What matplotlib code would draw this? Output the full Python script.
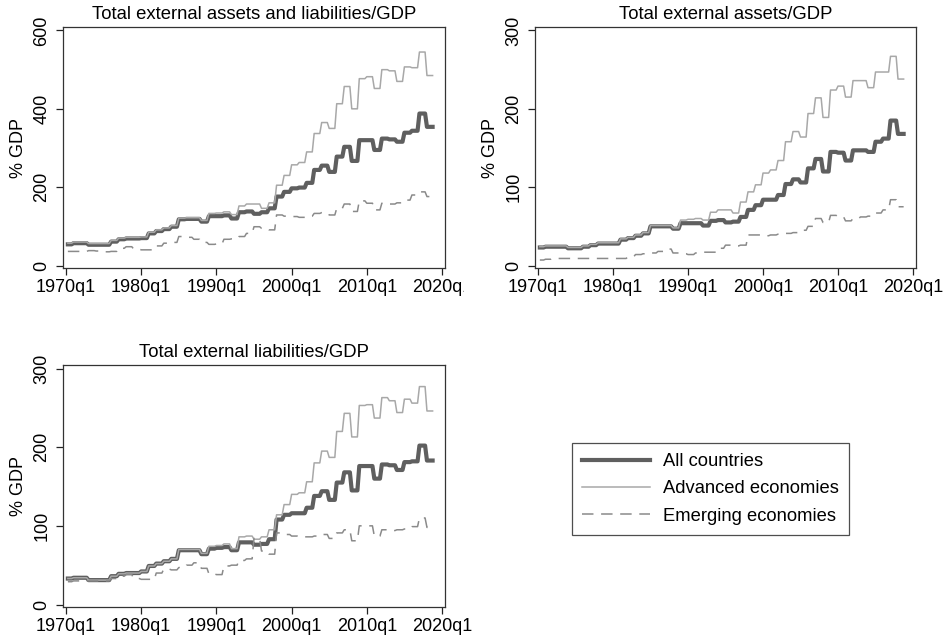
import numpy as np
import matplotlib.pyplot as plt
from matplotlib.transforms import Bbox, TransformedBbox

plt.rcParams['font.family'] = ['Liberation Sans', 'DejaVu Sans']

# annual readings 1970..2018, shown at quarterly frequency
YEARS = np.arange(1970, 2019)

TOTAL_ALL = [54, 57, 57, 53, 53, 53, 61, 67, 69, 69, 70, 82, 88, 93, 99, 118, 119, 119, 112, 126,
             126, 128, 120, 136, 138, 132, 136, 146, 176, 188, 197, 199, 211, 244, 255, 239, 278, 303, 267, 320,
             320, 295, 324, 322, 316, 339, 344, 388, 354]
TOTAL_ADV = [57, 60, 60, 56, 56, 56, 64, 70, 72, 72, 73, 85, 91, 96, 102, 121, 122, 122, 115, 133,
             134, 137, 130, 152, 157, 157, 146, 160, 205, 230, 257, 263, 290, 337, 365, 350, 413, 457, 400, 477,
             482, 452, 500, 497, 470, 507, 505, 545, 485]
TOTAL_EME = [36, 36, 36, 38, 37, 35, 36, 44, 48, 42, 40, 40, 50, 57, 59, 74, 72, 67, 59, 54,
             55, 67, 68, 74, 82, 99, 95, 91, 129, 126, 125, 123, 126, 133, 135, 129, 146, 157, 138, 165,
             159, 142, 159, 157, 160, 167, 180, 188, 176]

ASSETS_ALL = [23, 24, 24, 24, 22, 22, 24, 26, 28, 28, 28, 33, 35, 38, 41, 50, 50, 50, 47, 54,
              54, 54, 51, 57, 58, 55, 56, 62, 71, 77, 84, 84, 90, 104, 110, 106, 124, 136, 120, 145,
              144, 134, 147, 147, 145, 158, 162, 185, 168]
ASSETS_ADV = [24, 25, 25, 25, 23, 23, 25, 27, 29, 29, 29, 34, 36, 39, 42, 51, 51, 51, 48, 58,
              59, 60, 58, 68, 71, 71, 67, 81, 94, 103, 118, 122, 134, 158, 171, 164, 194, 214, 189, 224,
              229, 215, 236, 236, 227, 247, 247, 267, 238]
ASSETS_EME = [7, 8, 9, 9, 9, 9, 9, 9, 9, 9, 9, 9, 11, 14, 15, 16, 18, 21, 16, 15,
              14, 16, 17, 17, 22, 26, 25, 26, 39, 39, 38, 39, 40, 41, 42, 45, 50, 60, 55, 64,
              62, 57, 60, 62, 63, 67, 71, 84, 75]

LIAB_ALL = [33, 34, 34, 31, 31, 31, 36, 39, 40, 40, 42, 49, 52, 55, 58, 69, 69, 69, 64, 71,
            72, 73, 69, 79, 79, 76, 77, 83, 108, 114, 116, 116, 123, 138, 144, 133, 155, 168, 145, 176,
            176, 160, 178, 177, 171, 181, 182, 202, 183]
LIAB_ADV = [33, 34, 34, 31, 31, 31, 36, 39, 40, 40, 42, 49, 52, 55, 58, 70, 70, 70, 65, 74,
            75, 77, 71, 86, 87, 83, 86, 95, 114, 127, 140, 142, 156, 180, 195, 187, 220, 243, 213, 253,
            254, 237, 263, 259, 244, 261, 256, 277, 246]
LIAB_EME = [29, 30, 30, 30, 30, 30, 33, 36, 38, 33, 32, 32, 40, 45, 44, 47, 50, 53, 46, 39,
            38, 49, 50, 56, 58, 84, 68, 64, 91, 89, 87, 86, 86, 87, 89, 84, 91, 95, 81, 100,
            100, 87, 95, 94, 95, 96, 99, 110, 98]

PANELS = [
    ("Total external assets and liabilities/GDP", TOTAL_ALL, TOTAL_ADV, TOTAL_EME, [0, 200, 400, 600]),
    ("Total external assets/GDP", ASSETS_ALL, ASSETS_ADV, ASSETS_EME, [0, 100, 200, 300]),
    ("Total external liabilities/GDP", LIAB_ALL, LIAB_ADV, LIAB_EME, [0, 100, 200, 300]),
]
XTICKS = [1970, 1980, 1990, 2000, 2010, 2020]
XLABELS = ["1970q1", "1980q1", "1990q1", "2000q1", "2010q1", "2020q1"]
SERIES_NAMES = ["All countries", "Advanced economies", "Emerging economies"]

FS = 13
W, H = 943, 638
fig = plt.figure(figsize=(W / 100, H / 100), dpi=100)

# axes boxes in pixels: left, top, right, bottom
boxes = [(63, 27, 445, 268), (535, 27, 916, 268), (63, 365, 445, 607)]

# quarterly axis: each annual reading held for its four quarters
quarters = np.repeat(YEARS, 4) + np.tile([0.0, 0.25, 0.5, 0.75], len(YEARS))
keep = quarters >= 1970.25

handles = None
for i, (title, s_all, s_adv, s_eme, yticks) in enumerate(PANELS):
    l, t, r, b = boxes[i]
    ax = fig.add_axes([l / W, 1 - b / H, (r - l) / W, (b - t) / H])

    q_all = np.repeat(s_all, 4)[keep]
    q_adv = np.repeat(s_adv, 4)[keep]
    q_eme = np.repeat(s_eme, 4)[keep]
    x = quarters[keep]

    h1, = ax.plot(x, q_all, '-', color='#5f5f5f', lw=3.0, solid_joinstyle='round')
    h2, = ax.plot(x, q_adv, '-', color='#a8a8a8', lw=1.1)
    h3, = ax.plot(x, q_eme, '--', color='#8a8a8a', lw=1.1, dashes=(7.5, 5))
    if handles is None:
        handles = [h1, h2, h3]

    top = yticks[-1]
    step = (top - yticks[0]) / 236.0
    ax.set_ylim(-2.5 * step, top + 3.5 * step)
    ax.set_xlim(1970 - 3 / 7.52, 2020 + 3 / 7.52)
    ax.set_yticks(yticks)
    ax.set_yticklabels([str(v) for v in yticks], rotation=90, va='center', fontsize=FS)
    ax.set_xticks(XTICKS)
    ax.set_xticklabels(XLABELS, fontsize=FS)
    ax.tick_params(direction='out', length=5, width=0.9, color='#222222', pad=3)
    ax.tick_params(axis='y', pad=4)
    ax.set_ylabel("% GDP", fontsize=FS, labelpad=5)
    ax.set_title(title, fontsize=13.3, pad=6)
    for sp in ax.spines.values():
        sp.set_color('#333333')
        sp.set_linewidth(0.9)

    if i == 0:
        # last tick label is cut where the next graph begins
        lab = ax.get_xticklabels()[-1]
        lab.set_clip_box(TransformedBbox(Bbox([[0, 0], [464 / W, 1]]), fig.transFigure))
        lab.set_clip_on(True)

leg = fig.legend(handles, SERIES_NAMES, loc='center', bbox_to_anchor=(710.5 / W, 1 - 489 / H),
                 fontsize=13.2, frameon=True, fancybox=False, edgecolor='#222222',
                 handlelength=3.7, handletextpad=0.75, labelspacing=0.55, borderpad=0.55)
leg.get_frame().set_linewidth(0.9)

fig.savefig("out.png", dpi=100)
